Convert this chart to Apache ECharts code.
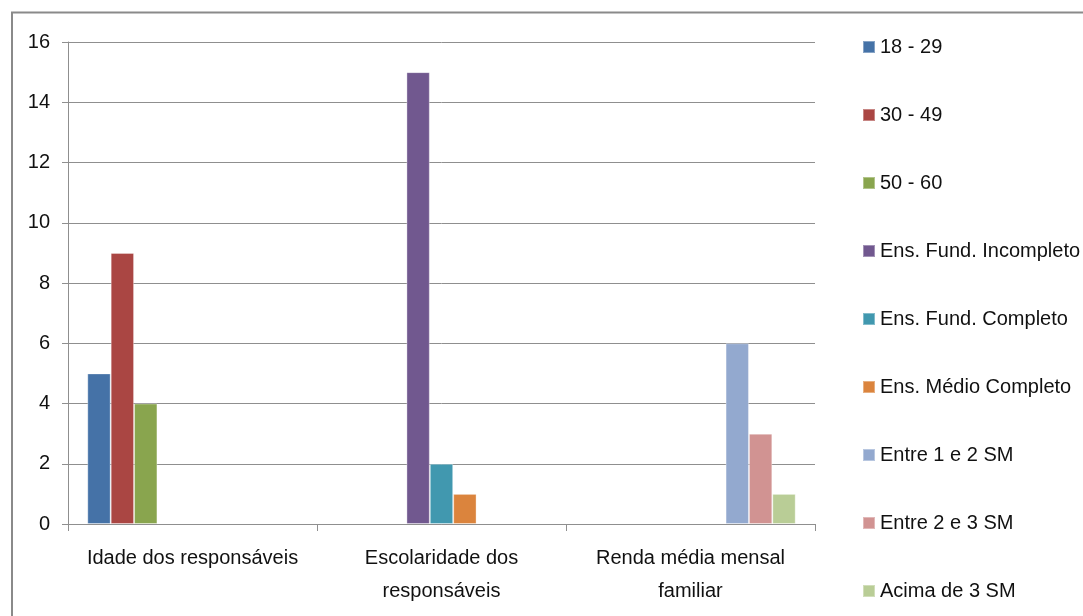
<!DOCTYPE html>
<html>
<head>
<meta charset="utf-8">
<script src="https://cdn.jsdelivr.net/npm/echarts@6/dist/echarts.min.js"></script>
<style>
  html, body { margin: 0; padding: 0; background: #fff; }
  #chart { width: 1083px; height: 616px; }
</style>
</head>
<body>
<div id="chart"></div>
<script>
// Categories on the x axis
const categories = ['Idade dos responsáveis', 'Escolaridade dos\nresponsáveis', 'Renda média mensal\nfamiliar'];

// Series names and their values per category
const seriesNames = [
  '18 - 29', '30 - 49', '50 - 60',
  'Ens. Fund. Incompleto', 'Ens. Fund. Completo', 'Ens. Médio Completo',
  'Entre 1 e 2 SM', 'Entre 2 e 3 SM', 'Acima de 3 SM'
];
const v18a29 = [5, null, null];
const v30a49 = [9, null, null];
const v50a60 = [4, null, null];
const vFundIncompleto = [null, 15, null];
const vFundCompleto = [null, 2, null];
const vMedioCompleto = [null, 1, null];
const vEntre1e2 = [null, null, 6];
const vEntre2e3 = [null, null, 3];
const vAcima3 = [null, null, 1];
const seriesValues = [v18a29, v30a49, v50a60, vFundIncompleto, vFundCompleto, vMedioCompleto, vEntre1e2, vEntre2e3, vAcima3];

const colors = ['#4572A7', '#AA4643', '#89A54E', '#71588F', '#4198AF', '#DB843D', '#93A9CF', '#D19392', '#B9CD96'];

// Y axis tick values
const yTicks = [0, 2, 4, 6, 8, 10, 12, 14, 16];

const font = '"Liberation Sans", sans-serif';
const gridColor = '#8f8f8f';
const textColor = '#111';

const chart = echarts.init(document.getElementById('chart'), null, { renderer: 'canvas' });

chart.setOption({
  animation: false,
  color: colors,
  textStyle: { fontFamily: font },
  grid: { left: 68, right: 268, top: 42, bottom: 92, containLabel: false },
  legend: {
    orient: 'vertical',
    left: 857,
    top: 32,
    itemWidth: 12,
    itemHeight: 12,
    itemGap: 48,
    icon: 'rect',
    textStyle: { fontFamily: font, fontSize: 20, color: textColor, lineHeight: 20 },
    data: seriesNames
  },
  xAxis: {
    type: 'category',
    data: categories,
    axisLine: { lineStyle: { color: gridColor, width: 1 } },
    axisTick: { show: true, length: 7, alignWithLabel: false, lineStyle: { color: gridColor } },
    axisLabel: { fontFamily: font, fontSize: 20, color: textColor, margin: 18, lineHeight: 33, interval: 0 },
    splitLine: { show: false }
  },
  yAxis: {
    type: 'value',
    min: yTicks[0],
    max: yTicks[yTicks.length - 1],
    interval: 2,
    axisLine: { show: true, lineStyle: { color: gridColor, width: 1 } },
    axisTick: { show: true, length: 6, inside: false, lineStyle: { color: gridColor } },
    axisLabel: { fontFamily: font, fontSize: 20, color: textColor, margin: 18 },
    splitLine: { show: true, lineStyle: { color: gridColor, width: 1 } }
  },
  graphic: [{
    type: 'rect',
    shape: { x: 12, y: 12.5, width: 1200, height: 800 },
    style: { fill: 'none', stroke: '#8a8a8a', lineWidth: 2 },
    silent: true,
    z: 100
  }],
  series: seriesNames.map((name, i) => ({
    name: name,
    type: 'bar',
    data: seriesValues[i],
    barGap: '0%',
    barCategoryGap: '15.5%',
    itemStyle: { color: colors[i], borderColor: 'rgba(255,255,255,0.35)', borderWidth: 1 }
  }))
});
</script>
</body>
</html>
